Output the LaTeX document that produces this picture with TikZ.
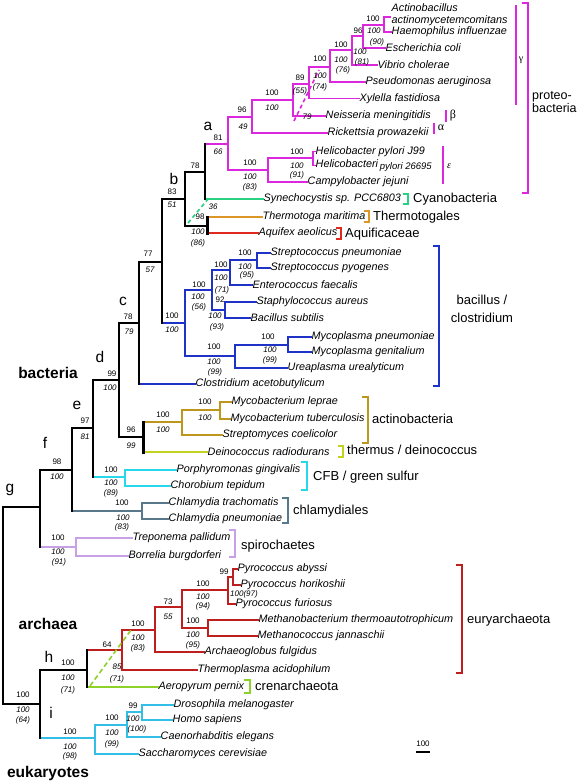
\documentclass[tikz,border=0pt]{standalone}
\usepackage{fontspec}
\setmainfont{Liberation Sans}
\newfontfamily\grkfont{Liberation Serif}
\definecolor{mag}{RGB}{220,40,220}
\definecolor{cyag}{RGB}{40,210,130}
\definecolor{orng}{RGB}{220,150,40}
\definecolor{aqred}{RGB}{225,40,30}
\definecolor{bblue}{RGB}{30,50,200}
\definecolor{gold}{RGB}{190,150,30}
\definecolor{ygreen}{RGB}{195,210,30}
\definecolor{cfbcyan}{RGB}{40,215,235}
\definecolor{chgray}{RGB}{90,120,140}
\definecolor{lav}{RGB}{200,160,230}
\definecolor{dred}{RGB}{190,30,30}
\definecolor{lime}{RGB}{140,210,40}
\definecolor{skyc}{RGB}{50,190,230}
\begin{document}
\begin{tikzpicture}[x=1pt,y=-1pt,
  tree/.style={line width=1.6pt,line cap=rect},
  blk/.style={black,line width=2pt},
  thk/.style={black,line width=3pt},
  taxon/.style={anchor=west,inner sep=0.5pt,font=\fontsize{10.8}{11.5}\selectfont\itshape},
  up/.style={inner sep=0pt,font=\fontsize{8}{9}\selectfont},
  lo/.style={inner sep=0pt,font=\fontsize{8}{9}\selectfont\itshape},
  grp/.style={anchor=west,inner sep=0pt,font=\fontsize{13}{14}\selectfont},
  letter/.style={inner sep=0pt,font=\fontsize{15.5}{17}\selectfont},
  big/.style={inner sep=0pt,font=\bfseries\fontsize{15.5}{17}\selectfont},
  brk/.style={line width=1.8pt}]
\useasboundingbox (0,0) rectangle (580,784);
\fill[white] (0,0) rectangle (580,784);

% ---------- taxa ----------
\node[taxon,align=left] (act) at (391,14.5) {Actinobacillus\\actinomycetemcomitans};
\coordinate (actL) at (390,17);
\node[taxon] (hae) at (391,32) {Haemophilus influenzae};
\node[taxon] (eco) at (385,48) {Escherichia coli};
\node[taxon] (vib) at (377,65) {Vibrio cholerae};
\node[taxon] (pse) at (365,82) {Pseudomonas aeruginosa};
\node[taxon] (xyl) at (359,98.5) {Xylella fastidiosa};
\node[taxon] (nei) at (325,116) {Neisseria meningitidis};
\node[taxon] (ric) at (327,133) {Rickettsia prowazekii};
\node[taxon] (hp1) at (315,151.5) {Helicobacter pylori J99};
\node[taxon] (hp2) at (315,165.5) {Helicobacteri\,\raisebox{-1.5pt}{\fontsize{9.5}{10}\selectfont pylori 26695}};
\node[taxon] (cam) at (307,182) {Campylobacter jejuni};
\node[taxon] (syn) at (263,199) {Synechocystis sp. PCC6803};
\node[taxon] (thm) at (262,217) {Thermotoga maritima};
\node[taxon] (aqu) at (258,233) {Aquifex aeolicus};
\node[taxon] (spn) at (270,253) {Streptococcus pneumoniae};
\node[taxon] (spy) at (270,268) {Streptococcus pyogenes};
\node[taxon] (ent) at (252,285) {Enterococcus faecalis};
\node[taxon] (sta) at (256,302) {Staphylococcus aureus};
\node[taxon] (bsu) at (250,318) {Bacillus subtilis};
\node[taxon] (mpn) at (311,337) {Mycoplasma pneumoniae};
\node[taxon] (mge) at (311,352) {Mycoplasma genitalium};
\node[taxon] (uur) at (287,368) {Ureaplasma urealyticum};
\node[taxon] (cac) at (195,384) {Clostridium acetobutylicum};
\node[taxon] (mle) at (231,402) {Mycobacterium leprae};
\node[taxon] (mtb) at (230,419) {Mycobacterium tuberculosis};
\node[taxon] (sco) at (222,435) {Streptomyces coelicolor};
\node[taxon] (dra) at (207,452) {Deinococcus radiodurans};
\node[taxon] (pgi) at (176,470) {Porphyromonas gingivalis};
\node[taxon] (cte) at (170,486) {Chorobium tepidum};
\node[taxon] (ctr) at (168,503) {Chlamydia trachomatis};
\node[taxon] (cpn) at (168,519) {Chlamydia pneumoniae};
\node[taxon] (tpa) at (132,538) {Treponema pallidum};
\node[taxon] (bbu) at (128,556) {Borrelia burgdorferi};
\node[taxon] (pab) at (237,569) {Pyrococcus abyssi};
\node[taxon] (pho) at (240,585) {Pyrococcus horikoshii};
\node[taxon] (pfu) at (235,604) {Pyrococcus furiosus};
\node[taxon] (mth) at (258,620) {Methanobacterium thermoautotrophicum};
\node[taxon] (mja) at (257,636) {Methanococcus jannaschii};
\node[taxon] (afu) at (204,652) {Archaeoglobus fulgidus};
\node[taxon] (tac) at (197,670) {Thermoplasma acidophilum};
\node[taxon] (ape) at (158,687) {Aeropyrum pernix};
\node[taxon] (dme) at (173,705) {Drosophila melanogaster};
\node[taxon] (hsa) at (172,720) {Homo sapiens};
\node[taxon] (cel) at (160,737) {Caenorhabditis elegans};
\node[taxon] (sce) at (138,754) {Saccharomyces cerevisiae};

% ---------- internal nodes ----------
\coordinate (n1) at (384,25);
\coordinate (n2) at (363,36);
\coordinate (n3) at (352,50);
\coordinate (n4) at (330,67);
\coordinate (n5) at (309,84);
\coordinate (n6) at (293,100);
\coordinate (n7) at (252,117);
\coordinate (hp) at (313,158);
\coordinate (n8) at (268,170);
\coordinate (na) at (228,144);
\coordinate (n9) at (205,172);
\coordinate (tt) at (207,226);
\coordinate (nb) at (185,199);
\coordinate (strep) at (257,260);
\coordinate (n10) at (230,270);
\coordinate (sb) at (225,310);
\coordinate (n11) at (212,290);
\coordinate (myc) at (288,345);
\coordinate (n12) at (235,356);
\coordinate (bc) at (185,323);
\coordinate (n13) at (162,262);
\coordinate (nc) at (139,323);
\coordinate (mb) at (220,410);
\coordinate (act2) at (182,422);
\coordinate (ad) at (143,437);
\coordinate (nd) at (119,380);
\coordinate (cfb) at (125,477);
\coordinate (ne) at (93,428);
\coordinate (chl) at (142,511);
\coordinate (nf) at (72,470);
\coordinate (spi) at (76,547);
\coordinate (ng) at (40,507);
\coordinate (pah) at (233,577);
\coordinate (pyr) at (228,590);
\coordinate (met) at (208,628);
\coordinate (n14) at (182,607);
\coordinate (n15) at (155,630);
\coordinate (n16) at (122,650);
\coordinate (n17) at (87,670);
\coordinate (dh) at (142,712);
\coordinate (n18) at (127,725);
\coordinate (n19) at (95,738);
\coordinate (nhi) at (40,704);
\coordinate (root) at (3,603);

% ---------- horizontal branches ----------
\foreach \p/\c/\s in {n1/actL/mag,n1/hae/mag,n2/n1/mag,n2/eco/mag,n3/n2/mag,n3/vib/mag,
  n4/n3/mag,n4/pse/mag,n5/n4/mag,n5/xyl/mag,n6/n5/mag,n6/nei/mag,n7/n6/mag,n7/ric/mag,
  hp/hp1/mag,hp/hp2/mag,n8/hp/mag,n8/cam/mag,na/n7/mag,na/n8/mag,n9/na/mag,n9/syn/cyag,
  tt/thm/orng,tt/aqu/aqred,nb/n9/blk,nb/tt/blk,
  strep/spn/bblue,strep/spy/bblue,n10/strep/bblue,n10/ent/bblue,sb/sta/bblue,sb/bsu/bblue,
  n11/n10/bblue,n11/sb/bblue,myc/mpn/bblue,myc/mge/bblue,n12/myc/bblue,n12/uur/bblue,
  bc/n11/bblue,bc/n12/bblue,n13/nb/blk,n13/bc/bblue,nc/n13/blk,nc/cac/bblue,
  mb/mle/gold,mb/mtb/gold,act2/mb/gold,act2/sco/gold,ad/act2/gold,ad/dra/ygreen,
  nd/nc/blk,nd/ad/blk,cfb/pgi/cfbcyan,cfb/cte/cfbcyan,ne/nd/blk,ne/cfb/cfbcyan,
  chl/ctr/chgray,chl/cpn/chgray,nf/ne/blk,nf/chl/chgray,spi/tpa/lav,spi/bbu/lav,
  ng/nf/blk,ng/spi/lav,
  pah/pab/dred,pah/pho/dred,pyr/pah/dred,pyr/pfu/dred,met/mth/dred,met/mja/dred,
  n14/pyr/dred,n14/met/dred,n15/n14/dred,n15/afu/dred,n16/n15/dred,n16/tac/dred,
  n17/n16/dred,n17/ape/lime,
  dh/dme/skyc,dh/hsa/skyc,n18/dh/skyc,n18/cel/skyc,n19/n18/skyc,n19/sce/skyc,
  nhi/n17/blk,nhi/n19/skyc,root/ng/blk,root/nhi/blk}
  {\draw[tree,\s] (\p |- \c) -- (\c);}

% ---------- vertical lines ----------
\foreach \p/\a/\b/\s in {n1/actL/hae/mag,n2/n1/eco/mag,n3/n2/vib/mag,n4/n3/pse/mag,
  n5/n4/xyl/mag,n6/n5/nei/mag,n7/n6/ric/mag,hp/hp1/hp2/mag,n8/hp/cam/mag,na/n7/n8/mag,
  n9/na/syn/blk,tt/thm/aqu/thk,nb/n9/tt/blk,
  strep/spn/spy/bblue,n10/strep/ent/bblue,sb/sta/bsu/bblue,n11/n10/sb/bblue,
  myc/mpn/mge/bblue,n12/myc/uur/bblue,bc/n11/n12/bblue,n13/nb/bc/blk,nc/n13/cac/blk,
  mb/mle/mtb/gold,act2/mb/sco/gold,ad/act2/dra/thk,nd/nc/ad/blk,
  cfb/pgi/cte/cfbcyan,ne/nd/cfb/blk,chl/ctr/cpn/chgray,nf/ne/chl/blk,
  spi/tpa/bbu/lav,ng/nf/spi/blk,
  pah/pab/pho/dred,pyr/pah/pfu/dred,met/mth/mja/dred,n14/pyr/met/dred,
  n15/n14/afu/dred,n16/n15/tac/dred,n17/n16/ape/blk,
  dh/dme/hsa/skyc,n18/dh/cel/skyc,n19/n18/sce/skyc,nhi/n17/n19/blk,root/ng/nhi/blk}
  {\draw[tree,\s] (\p |- \a) -- (\p |- \b);}

% ---------- dashed alternative placements ----------
\coordinate (dm1) at (294,121); \coordinate (dm2) at (319,70);
\draw[mag,line width=1.6pt,dash pattern=on 4pt off 3pt] (dm1) -- (dm2);
\coordinate (dg1) at (188,223); \coordinate (dg2) at (208,199);
\draw[cyag,line width=1.6pt,dash pattern=on 4pt off 3pt] (dg1) -- (dg2);
\coordinate (dl1) at (90,686); \coordinate (dl2) at (131,630);
\draw[lime,line width=1.6pt,dash pattern=on 5pt off 3pt] (dl1) -- (dl2);

% ---------- support values ----------
\foreach \t/\x/\y [count=\i] in {{100}/373/19,{96}/358/31,{100}/341/45,{100}/320/59,{89}/300/78,
  {100}/272/93,{96}/242/110,{81}/218/138,{100}/250/163,{100}/297/152,{78}/195/166,{83}/172/192,
  {98}/200/217,{77}/148/254,{78}/128/317,{100}/172/316,{100}/199/285,{100}/221/265,{100}/245/253,
  {92}/220/300,{100}/214/347,{100}/268/337,{99}/112/374,{100}/163/415,{100}/205/402,{96}/131/430,
  {97}/85/421,{100}/111/470,{98}/57/462,{100}/122/503,{100}/58/538,{99}/224/572,{100}/203/584,
  {100}/193/621,{73}/168/602,{100}/138/624,{64}/107/645,{100}/68/663,{100}/23/695,{100}/70/732,
  {100}/112/718,{99}/133/706}
  {\node[up] (u\i) at (\x,\y) {\t};}
\foreach \t/\x/\y [count=\i] in {{100}/374/31,{(90)}/377/42,{100}/360/52,{(81)}/362/62,
  {100}/341/60,{(76)}/343/70,{100}/320/76,{(74)}/320/87,{(55)}/300/91,{100}/272/108,{79}/307/117,
  {49}/243/127,{66}/218/152,{100}/250/177,{(83)}/250/187,{100}/297/166,{(91)}/297/175,
  {51}/172/205,{36}/213/207,{100}/198/232,{(86)}/198/243,{57}/150/270,{79}/129/332,
  {100}/172/330,{100}/198/297,{(56)}/199/307,{100}/221/278,{(71)}/222/290,{100}/245/267,
  {(95)}/247/275,{100}/215/316,{(93)}/217/327,{100}/214/362,{(99)}/215/372,{100}/270/350,
  {(99)}/270/360,{100}/110/388,{100}/163/430,{100}/205/418,{99}/131/446,{81}/85/437,
  {100}/111/483,{(89)}/111/493,{100}/57/477,{100}/123/518,{(83)}/122/527,{100}/58/552,
  {(91)}/59/562,{100(97)}/244/594,{100}/203/597,{(94)}/203/606,{100}/193/635,{(95)}/193/645,
  {55}/168/617,{100}/138/638,{(83)}/138/648,{85}/117/667,{(71)}/117/679,{100}/68/678,
  {(71)}/68/690,{100}/23/710,{(64)}/23/720,{100}/70/747,{(98)}/70/756,{100}/112/733,
  {(99)}/112/744,{100}/133/719,{(100)}/137/729}
  {\node[lo] (w\i) at (\x,\y) {\t};}

% ---------- node letters and domain labels ----------
\node[letter] (la) at (208,126) {a};
\node[letter] (lb) at (174,179) {b};
\node[letter] (lc) at (123,301) {c};
\node[letter] (ld) at (100,357) {d};
\node[letter] (le) at (77,405) {e};
\node[letter] (lf) at (45,443) {f};
\node[letter] (lg) at (10,490) {g};
\node[letter] (lh) at (49,657) {h};
\node[letter] (li) at (51,713) {i};
\node[big] (dbac) at (48,373) {bacteria};
\node[big] (darc) at (48,624) {archaea};
\node[big] (deuk) at (48,773) {eukaryotes};

% ---------- group brackets ----------
\draw[mag,brk] (516,5) -- (516,105);
\node[inner sep=0pt,font=\grkfont\fontsize{10}{11}\selectfont] (gam) at (521,60) {γ};
\draw[mag,brk] (522,3) -- (528,3) -- (528,193) -- (522,193);
\node[grp,align=left,font=\fontsize{12.5}{11.5}\selectfont] (prot) at (532,102) {proteo-\\bacteria};
\draw[mag,brk] (446,110) -- (446,122);
\node[inner sep=0pt,font=\grkfont\fontsize{12}{13}\selectfont] (bet) at (453,116) {β};
\draw[mag,brk] (434,123) -- (434,134);
\node[inner sep=0pt,font=\grkfont\fontsize{12}{13}\selectfont] (alp) at (441,128) {α};
\draw[mag,brk] (443,146) -- (443,184);
\node[inner sep=0pt,font=\grkfont\itshape\fontsize{10}{11}\selectfont] (eps) at (449,166) {ε};
\draw[cyag,brk] (403,194) -- (408,194) -- (408,204) -- (403,204);
\node[grp] (gcy) at (413,199) {Cyanobacteria};
\draw[orng,brk] (364,211) -- (369,211) -- (369,222) -- (364,222);
\node[grp] (gth) at (373,217) {Thermotogales};
\draw[aqred,brk] (336,228) -- (341,228) -- (341,239) -- (336,239);
\node[grp] (gaq) at (345,234) {Aquificaceae};
\draw[bblue,brk] (433,246) -- (439,246) -- (439,386) -- (433,386);
\node[inner sep=0pt,align=center,font=\fontsize{13}{18}\selectfont] (gba) at (482,309) {bacillus /\\clostridium};
\draw[gold,brk] (362,397) -- (368,397) -- (368,443) -- (362,443);
\node[grp] (gac) at (372,419) {actinobacteria};
\draw[ygreen,brk] (338,446) -- (343,446) -- (343,457) -- (338,457);
\node[grp] (gde) at (347,450) {thermus / deinococcus};
\draw[cfbcyan,brk] (301,462) -- (307,462) -- (307,490) -- (301,490);
\node[grp] (gcf) at (313,477) {CFB / green sulfur};
\draw[chgray,brk] (282,498) -- (288,498) -- (288,523) -- (282,523);
\node[grp] (gch) at (293,511) {chlamydiales};
\draw[lav,brk] (229,530) -- (235,530) -- (235,557) -- (229,557);
\node[grp] (gsp) at (241,546) {spirochaetes};
\draw[dred,brk] (456,565) -- (462,565) -- (462,673) -- (456,673);
\node[grp] (geu) at (467,620) {euryarchaeota};
\draw[lime,brk] (244,680) -- (250,680) -- (250,693) -- (244,693);
\node[grp] (gcr) at (255,686) {crenarchaeota};

% ---------- scale bar ----------
\node[up] (scl) at (423,744) {100};
\draw[line width=2pt] (scl.south west |- 0,752) -- (scl.south east |- 0,752);
\end{tikzpicture}
\end{document}
